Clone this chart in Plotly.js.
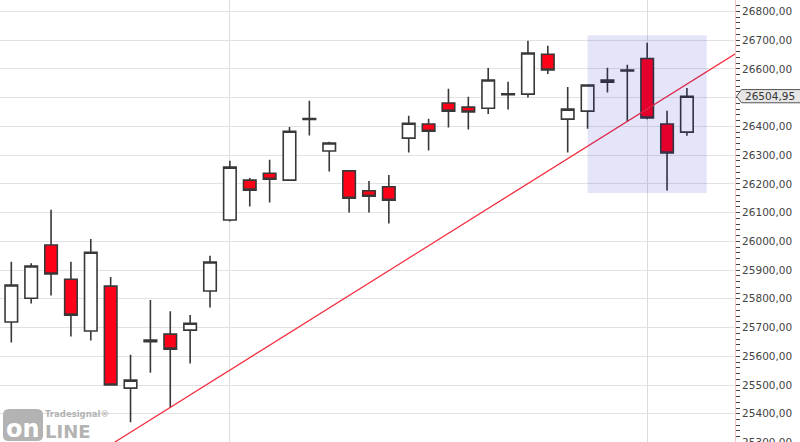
<!DOCTYPE html>
<html>
<head>
<meta charset="utf-8">
<script src="https://cdn.plot.ly/plotly-3.0.1.min.js"></script>
<style>
html, body { margin: 0; padding: 0; background: #ffffff; overflow: hidden; }
#chart { width: 800px; height: 452px; }
</style>
</head>
<body>
<div id="chart"></div>
<script>
// Session index (no date labels are shown in the reference)
const sessions = [0,1,2,3,4,5,6,7,8,9,10,11,12,13,14,15,16,17,18,19,20,21,22,23,24,25,26,27,28,29,30,31,32,33,34];
const openVals  = [25719,25802,25987,25868,25688,25844,25489,25651,25677,25691,25827,26074,26213,26237,26213,26424,26314,26245,26176,26190,26359,26408,26481,26467,26463,26510,26512,26651,26425,26453,26561,26596,26636,26408,26380];
const highVals  = [25929,25924,26110,25929,26008,25876,25605,25796,25757,25744,25950,26280,26220,26284,26398,26489,26346,26246,26210,26231,26437,26426,26531,26503,26603,26555,26698,26680,26537,26544,26604,26614,26691,26454,26533];
const lowVals   = [25648,25784,25811,25669,25655,25498,25370,25543,25422,25575,25770,26069,26121,26135,26212,26368,26243,26100,26100,26062,26309,26316,26396,26389,26443,26459,26500,26582,26309,26392,26518,26417,26425,26177,26367];
const closeVals = [25848,25914,25886,25743,25962,25500,25517,25656,25625,25715,25928,26258,26178,26216,26383,26427,26342,26150,26157,26143,26411,26383,26453,26450,26561,26513,26655,26596,26460,26544,26554,26593,26429,26307,26504.95];

// Price axis ticks and their labels (the 26500 label is hidden behind the last-price tag)
const tickVals  = [25300,25400,25500,25600,25700,25800,25900,26000,26100,26200,26300,26400,26500,26600,26700,26800];
const tickTexts = ['25300,00','25400,00','25500,00','25600,00','25700,00','25800,00','25900,00','26000,00','26100,00','26200,00','26300,00','26400,00','','26600,00','26700,00','26800,00'];

// Trend line (through the lows of session 8 and session 31, extended)
const trendX = [4, 38];
const trendY = [25249, 26720];

// Highlight box
const boxX = [29, 35];
const boxY = [26168, 26717];

// Vertical separators (period starts)
const periodStarts = [11, 32];

const lastClose = closeVals[closeVals.length - 1];
const lastLabel = lastClose.toFixed(2).replace('.', ',');

const candle = {
  type: 'candlestick',
  x: sessions, open: openVals, high: highVals, low: lowVals, close: closeVals,
  increasing: { line: { color: '#383838', width: 1.6 }, fillcolor: '#ffffff' },
  decreasing: { line: { color: '#383838', width: 1.6 }, fillcolor: '#ff0019' },
  whiskerwidth: 0,
  hoverinfo: 'skip'
};
const trend = {
  type: 'scatter', mode: 'lines', x: trendX, y: trendY,
  line: { color: '#f42a3a', width: 1.2 }, hoverinfo: 'skip'
};

const logoGray = '#b3b3b3';
const H = 452; // plot runs slightly below the 442px window, as in the reference
const py = (p) => (H - p) / H;

const layout = {
  width: 800, height: H,
  margin: { l: 0, r: 65, t: 0, b: 0, pad: 0 },
  paper_bgcolor: '#ffffff', plot_bgcolor: '#ffffff',
  showlegend: false,
  boxgap: 0.3, boxgroupgap: 0.1,
  xaxis: {
    range: [-0.569, 36.42], tickvals: periodStarts, showticklabels: false, ticks: '',
    showgrid: true, gridcolor: '#dcdcdc', gridwidth: 1, zeroline: false, showline: false,
    rangeslider: { visible: false }, fixedrange: true
  },
  yaxis: {
    side: 'right', range: [25266.9, 26839.6],
    tickmode: 'array', tickvals: tickVals, ticktext: tickTexts,
    ticks: 'outside', ticklen: 4, tickcolor: '#444', tickwidth: 1,
    minor: { dtick: 20, tick0: 0, ticks: 'outside', ticklen: 4, tickcolor: '#444', tickwidth: 1, showgrid: false },
    showgrid: true, gridcolor: '#e2e2e2', gridwidth: 1,
    showline: true, linecolor: '#f3c4c4', linewidth: 1, zeroline: false,
    tickfont: { family: 'DejaVu Sans, sans-serif', size: 10.5, color: '#444' },
    fixedrange: true
  },
  shapes: [
    { type: 'rect', xref: 'x', yref: 'y', x0: boxX[0], x1: boxX[1], y0: boxY[0], y1: boxY[1],
      fillcolor: 'rgba(0,0,210,0.1)', line: { width: 0 }, layer: 'above' },
    { type: 'path', xref: 'paper', yref: 'y', xsizemode: 'pixel', ysizemode: 'pixel',
      xanchor: 1, yanchor: lastClose,
      path: 'M 1.5,0 L 6.5,6.6 L 70,6.6 L 70,-6.6 L 6.5,-6.6 Z',
      fillcolor: '#e6e6e6', line: { color: '#555555', width: 1 }, layer: 'above' },
    { type: 'path', xref: 'paper', yref: 'paper', xsizemode: 'pixel', ysizemode: 'pixel',
      xanchor: 0, yanchor: py(442),
      path: 'M 3,6 L 3,27 Q 3,33 9,33 L 37,33 Q 43,33 43,27 L 43,6 Q 43,1 37,1 L 9,1 Q 3,1 3,6 Z',
      fillcolor: logoGray, line: { width: 0 }, layer: 'above' }
  ],
  annotations: [
    { xref: 'paper', yref: 'y', x: 1, y: lastClose, xanchor: 'left', yanchor: 'middle',
      xshift: 8, yshift: 0, text: lastLabel, showarrow: false,
      font: { family: 'DejaVu Sans, sans-serif', size: 10.5, color: '#333' } },
    { xref: 'paper', yref: 'paper', x: 23 / 735, y: py(429), xanchor: 'center', yanchor: 'middle',
      text: '<b>on</b>', showarrow: false,
      font: { family: 'DejaVu Sans, sans-serif', size: 24, color: '#ffffff' } },
    { xref: 'paper', yref: 'paper', x: 43 / 735, y: py(431.5), xanchor: 'left', yanchor: 'middle',
      text: '<b>LINE</b>', showarrow: false,
      font: { family: 'DejaVu Sans, sans-serif', size: 18, color: logoGray } },
    { xref: 'paper', yref: 'paper', x: 43 / 735, y: py(414), xanchor: 'left', yanchor: 'middle',
      text: '<b>Tradesignal®</b>', showarrow: false,
      font: { family: 'DejaVu Sans, sans-serif', size: 8.5, color: logoGray } }
  ]
};

Plotly.newPlot('chart', [candle, trend], layout, { staticPlot: true, displayModeBar: false });
</script>
</body>
</html>
